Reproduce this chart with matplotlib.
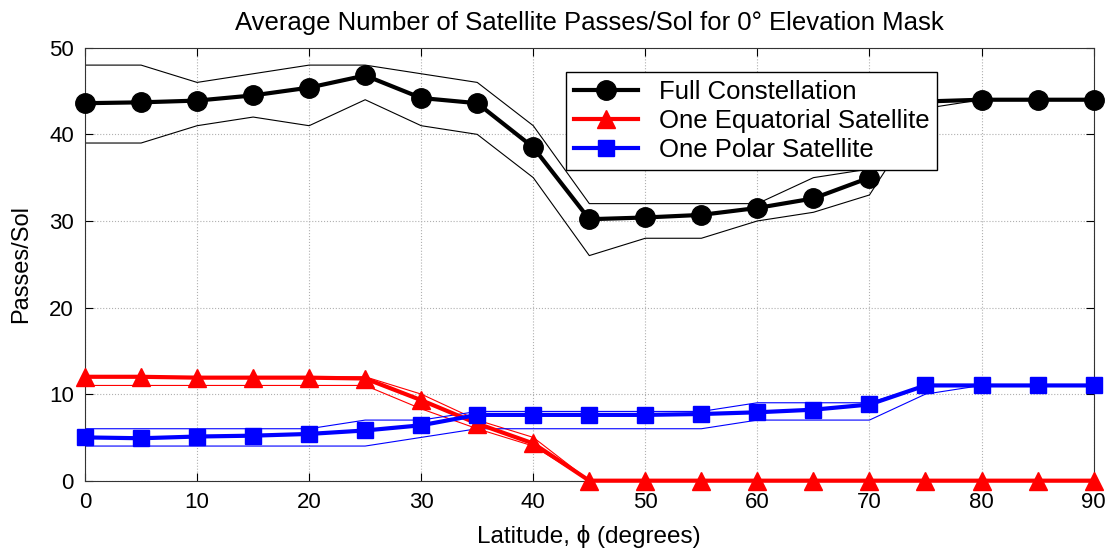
import numpy as np
import matplotlib.pyplot as plt

plt.rcParams['font.family'] = ['Liberation Sans', 'DejaVu Sans']

# latitude grid (degrees)
latitude = np.arange(0, 95, 5)

# full constellation: mean and min/max envelope
full_mean = [43.6, 43.7, 43.9, 44.5, 45.4, 46.8, 44.2, 43.6, 38.5, 30.2,
             30.4, 30.7, 31.5, 32.6, 35.0, 43.8, 44.0, 44.0, 44.0]
full_max = [48, 48, 46, 47, 48, 48, 47, 46, 41, 32,
            32, 32, 32, 35, 36, 44, 44, 44, 44]
full_min = [39, 39, 41, 42, 41, 44, 41, 40, 35, 26,
            28, 28, 30, 31, 33, 43, 44, 44, 44]

# one equatorial satellite
equ_mean = [12.0, 12.0, 11.9, 11.9, 11.9, 11.8, 9.3, 6.6, 4.3, 0,
            0, 0, 0, 0, 0, 0, 0, 0, 0]
equ_max = [12, 12, 12, 12, 12, 12, 10, 7, 5, 0,
           0, 0, 0, 0, 0, 0, 0, 0, 0]
equ_min = [11, 11, 11, 11, 11, 11, 8.3, 6, 4, 0,
           0, 0, 0, 0, 0, 0, 0, 0, 0]

# one polar satellite
pol_mean = [5.0, 4.9, 5.1, 5.2, 5.4, 5.8, 6.4, 7.6, 7.6, 7.6,
            7.6, 7.7, 7.9, 8.2, 8.8, 11.0, 11.0, 11.0, 11.0]
pol_max = [6, 6, 6, 6, 6, 7, 7, 8, 8, 8,
           8, 8, 9, 9, 9, 11, 11, 11, 11]
pol_min = [4, 4, 4, 4, 4, 4, 5, 6, 6, 6,
           6, 6, 7, 7, 7, 10, 11, 11, 11]

fig = plt.figure(figsize=(11.16, 5.55), dpi=100)
ax = fig.add_axes([0.0762, 0.1339, 0.9037, 0.780])

# thin envelope lines
for lo, hi, c in [(full_min, full_max, 'black'),
                  (equ_min, equ_max, 'red'),
                  (pol_min, pol_max, 'blue')]:
    ax.plot(latitude, hi, color=c, lw=0.8, zorder=2)
    ax.plot(latitude, lo, color=c, lw=0.8, zorder=2)

ax.plot(latitude, full_mean, color='black', lw=3, marker='o', ms=14,
        label='Full Constellation', zorder=3, clip_on=False)
ax.plot(latitude, equ_mean, color='red', lw=3, marker='^', ms=13,
        label='One Equatorial Satellite', zorder=3, clip_on=False)
ax.plot(latitude, pol_mean, color='blue', lw=3, marker='s', ms=11,
        label='One Polar Satellite', zorder=3, clip_on=False)

ax.set_xlim(0, 90)
ax.set_ylim(0, 50)
ax.set_xticks(np.arange(0, 91, 10))
ax.set_yticks(np.arange(0, 51, 10))
ax.grid(True, color='#b0b0b0', linestyle=':', linewidth=0.8)
ax.tick_params(direction='in', top=True, right=True, length=6,
               labelsize=16, pad=8)
for s in ax.spines.values():
    s.set_color('#333333')

ax.set_title('Average Number of Satellite Passes/Sol for 0\u00b0 Elevation Mask',
             fontsize=18.5, pad=13)
ax.set_xlabel('Latitude, \u03d5 (degrees)', fontsize=17.5, labelpad=9)
ax.set_ylabel('Passes/Sol', fontsize=17, labelpad=12)

leg = ax.legend(loc='upper left', bbox_to_anchor=(0.477, 0.944),
                borderaxespad=0, fontsize=18.5, fancybox=False,
                edgecolor='black', framealpha=1, handlelength=2.5,
                borderpad=0.3, labelspacing=0.2)
leg.get_frame().set_linewidth(1.0)

fig.savefig('out.png', dpi=100)
